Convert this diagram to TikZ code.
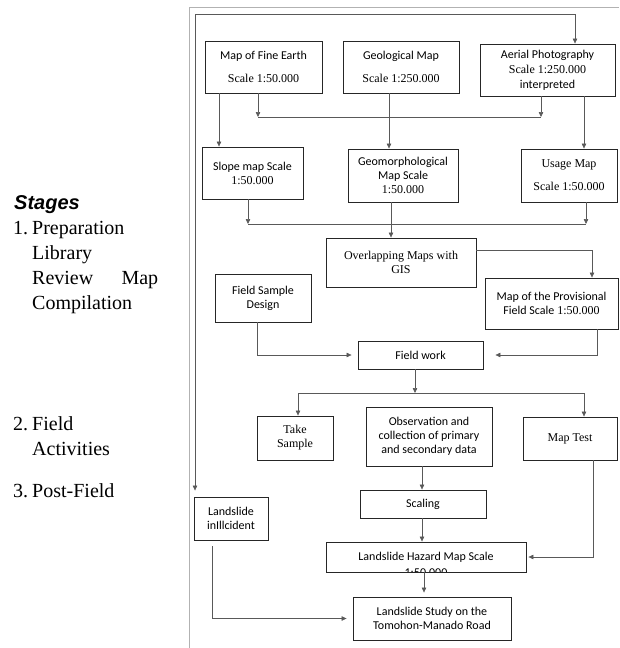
\documentclass[tikz,border=0pt]{standalone}
\usepackage{fontspec}
\setmainfont{Liberation Serif}
\newfontfamily\calib{Carlito}
\newfontfamily\arial{Liberation Sans}
\usetikzlibrary{arrows.meta}

\tikzset{
  box/.style={draw=black!85, line width=0.9pt, align=center, inner sep=1pt, font=\fontsize{12}{14}\selectfont},
  link/.style={draw=black!65, line width=0.6pt},
  arr/.style={link, -{Triangle[length=5pt,width=4.5pt]}},
  frame/.style={draw=black!30, line width=0.8pt},
  stage/.style={anchor=base west, inner sep=0pt, font=\fontsize{20}{25}\selectfont}
}

\begin{document}
\begin{tikzpicture}[x=1pt, y=-1pt]
\useasboundingbox (0,0) rectangle (619,648);

% frame
\draw[frame] (189,648) -- (189,7) -- (619,7);

% stages
\node[stage, font=\arial\bfseries\itshape\fontsize{20}{25}\selectfont] (stages) at (14,209) {Stages};
\node[stage] (st1) at (13,234) {\begin{tabular}[t]{@{}l@{}l@{}}
  \makebox[19pt][l]{1.} & Preparation\\
  & Library\\
  & \makebox[126pt][l]{Review\hfill Map}\\
  & Compilation
\end{tabular}};
\node[stage] (st2) at (13,430) {\begin{tabular}[t]{@{}l@{}l@{}}
  \makebox[19pt][l]{2.} & Field\\
  & Activities
\end{tabular}};
\node[stage] (st3) at (13,497) {\makebox[19pt][l]{3.}Post-Field};

% input maps
\node[box, minimum width=117pt, minimum height=52pt] (fine) at (263.5,67)
  {{\calib Map of Fine Earth}\\[9pt] Scale 1:50.000};
\node[box, minimum width=116pt, minimum height=52pt] (geo) at (401,67)
  {{\calib Geological Map}\\[9pt] Scale 1:250.000};
\node[box, minimum width=135pt, minimum height=52pt] (aerial) at (547.5,70)
  {{\calib Aerial Photography}\\[1pt] Scale 1:250.000\\[1pt] {\calib interpreted}};

% derived maps
\node[box, minimum width=101pt, minimum height=52pt] (slope) at (252.5,173)
  {{\calib Slope map Scale}\\ 1:50.000};
\node[box, minimum width=110pt, minimum height=53pt] (geomorph) at (403,175.5)
  {{\calib Geomorphological}\\ {\calib Map Scale}\\ 1:50.000};
\node[box, minimum width=96pt, minimum height=53pt] (usage) at (569,175.5)
  {Usage Map\\[9pt] Scale 1:50.000};

\node[box, minimum width=150pt, minimum height=49pt] (overlap) at (401,262.5)
  {Overlapping Maps with\\ GIS};
\node[box, minimum width=96pt, minimum height=48pt] (design) at (263,298)
  {\calib Field Sample\\ \calib Design};
\node[box, minimum width=133pt, minimum height=51pt] (prov) at (551.5,303.5)
  {{\calib Map of the Provisional}\\ {\calib Field Scale} 1:50.000};

% field
\node[box, minimum width=125pt, minimum height=28pt] (work) at (420.5,355) {\calib Field work};
\node[box, minimum width=76pt, minimum height=44pt] (take) at (295,438) {Take\\ Sample};
\node[box, minimum width=126pt, minimum height=59pt] (obs) at (429,436.5)
  {\calib Observation and\\ \calib collection of primary\\ \calib and secondary data};
\node[box, minimum width=94pt, minimum height=43pt] (test) at (570,438.5) {Map Test};

% post-field
\node[box, minimum width=126pt, minimum height=28pt] (scaling) at (423,504) {\calib Scaling};
\node[box, minimum width=200pt, minimum height=30pt] (hazard) at (426,557) {\calib Landslide Hazard Map Scale};
\begin{scope}
\clip ([yshift=0.6pt]hazard.south west) rectangle (hazard.north east);
\node[font=\calib\fontsize{12}{14}\selectfont, inner sep=0pt] (hazscale) at ([yshift=-16pt]hazard.center) {1:50.000};
\end{scope}
\node[box, minimum width=74pt, minimum height=43pt] (incident) at (231,518.5)
  {\calib Landslide\\ \calib inIllcident};
\node[box, minimum width=158pt, minimum height=43pt] (study) at (432,618.5)
  {\calib Landslide Study on the\\ \calib Tomohon-Manado Road};

% guides
\coordinate (tl) at (195,14);
\coordinate (ga) at (575,0);
\coordinate (xa) at (219,0);
\coordinate (xc) at (389,0);
\coordinate (xe) at (584,0);
\coordinate (xg) at (391,0);
\coordinate (xh) at (592,0);
\coordinate (xi) at (257,0);
\coordinate (xj) at (597,0);
\coordinate (xm) at (422,0);
\coordinate (xn) at (593,0);
\coordinate (xo) at (424,0);
\coordinate (xp) at (212,0);
\coordinate (b1l) at (258,117);
\coordinate (b1r) at (541,117);
\coordinate (b2l) at (248,224);
\coordinate (b2r) at (586,224);
\coordinate (b3) at (415,393);
\coordinate (b3l) at (298,393);
\coordinate (b3r) at (584,393);

% connectors
\draw[arr] (tl) -| (aerial.north -| ga);
\draw[arr, shorten >=6pt] (tl) -- (tl |- incident.north);
\draw[link] (b1l) -- (b1r);
\draw[arr] (fine.south -| b1l) -- (b1l);
\draw[arr] (aerial.south -| b1r) -- (b1r);
\draw[arr] (fine.south -| xa) -- (slope.north -| xa);
\draw[arr] (geo.south -| xc) -- (geomorph.north -| xc);
\draw[arr] (aerial.south -| xe) -- (usage.north -| xe);
\draw[link] (b2l) -- (b2r);
\draw[arr] (slope.south -| b2l) -- (b2l);
\draw[arr] (usage.south -| b2r) -- (b2r);
\draw[arr] (geomorph.south -| xg) -- (overlap.north -| xg);
\draw[arr] ([yshift=12.5pt]overlap.east) -| (prov.north -| xh);
\draw[arr, shorten >=6pt] (design.south -| xi) |- (work.west);
\draw[arr, shorten >=12pt] (prov.south -| xj) |- (work.east);
\draw[arr] (work.south -| b3) -- (b3);
\draw[link] (b3l) -- (b3r);
\draw[arr] (b3l) -- (take.north -| b3l);
\draw[arr] (b3r) -- (test.north -| b3r);
\draw[arr] (obs.south -| xm) -- (scaling.north -| xm);
\draw[arr] (scaling.south -| xm) -- (hazard.north -| xm);
\draw[arr, shorten >=2pt] (test.south -| xn) |- (hazard.east);
\draw[arr, shorten >=4pt] (hazard.south -| xo) -- (study.north -| xo);
\draw[arr, shorten <=6pt, shorten >=6pt] (incident.south -| xp) |- (study.west);
\end{tikzpicture}
\end{document}
